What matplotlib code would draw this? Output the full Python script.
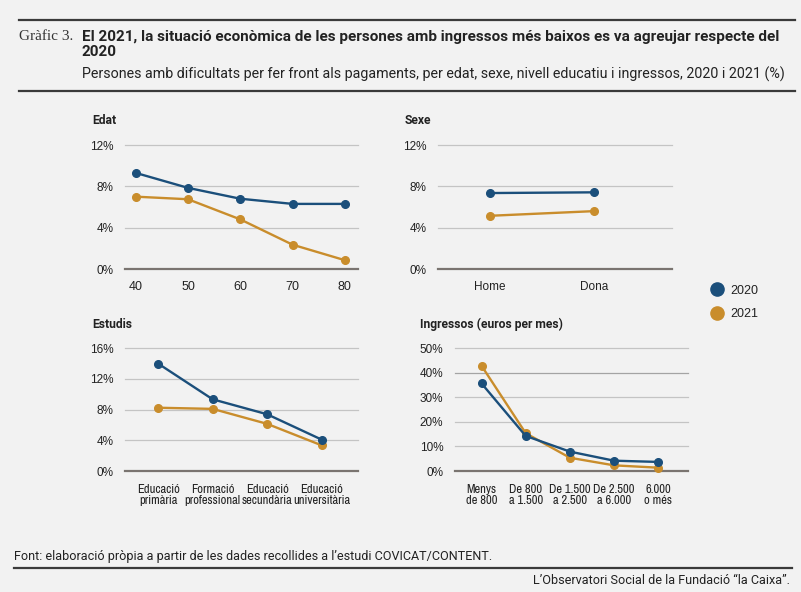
import matplotlib
matplotlib.use("Agg")
import matplotlib.pyplot as plt
from matplotlib.lines import Line2D

# ---------------- data ----------------
edat_x = [40, 50, 60, 70, 80]
edat_2020 = [9.3, 7.85, 6.8, 6.3, 6.3]
edat_2021 = [7.0, 6.75, 4.8, 2.35, 0.85]

sexe_cats = ["Home", "Dona"]
sexe_2020 = [7.35, 7.42]
sexe_2021 = [5.15, 5.6]

estudis_cats = ["Educació\nprimària", "Formació\nprofessional", "Educació\nsecundària", "Educació\nuniversitària"]
estudis_2020 = [14.0, 9.35, 7.4, 4.1]
estudis_2021 = [8.25, 8.1, 6.15, 3.35]

ingressos_cats = ["Menys\nde 800", "De 800\na 1.500", "De 1.500\na 2.500", "De 2.500\na 6.000", "6.000\no més"]
ingressos_2020 = [35.7, 14.3, 7.9, 4.2, 3.7]
ingressos_2021 = [42.9, 15.4, 5.4, 2.3, 1.35]

edat_yticks = [0, 4, 8, 12]
sexe_yticks = [0, 4, 8, 12]
estudis_yticks = [0, 4, 8, 12, 16]
ingressos_yticks = [0, 10, 20, 30, 40, 50]

series_labels = ["2020", "2021"]

title = "El 2021, la situació econòmica de les persones amb ingressos més baixos es va agreujar respecte del\n2020"
subtitle = "Persones amb dificultats per fer front als pagaments, per edat, sexe, nivell educatiu i ingressos, 2020 i 2021 (%)"
source = "Font: elaboració pròpia a partir de les dades recollides a l’estudi COVICAT/CONTENT."
credit = "L’Observatori Social de la Fundació “la Caixa”."

# ---------------- style ----------------
BG = "#f2f2f2"
BLUE = "#1b4f7b"
GOLD = "#c98d2c"
GRID = "#c4c4c4"
ZERO = "#7a7470"
TXT = "#222222"

NARROW = ["Archivo Narrow", "Roboto Condensed", "DejaVu Sans"]
ROBOTO = ["Roboto", "DejaVu Sans"]
plt.rcParams["font.family"] = ["Liberation Sans", "DejaVu Sans"]

W, H = 801, 592
fig = plt.figure(figsize=(W / 100, H / 100), dpi=100, facecolor=BG)


def fx(px):
    return px / W


def fy(py):
    return 1 - py / H


def make_ax(x0, x1, ytop, ybot):
    ax = fig.add_axes([fx(x0), fy(ybot), fx(x1 - x0), (ybot - ytop) / H])
    ax.set_facecolor(BG)
    for s in ax.spines.values():
        s.set_visible(False)
    ax.tick_params(length=0, labelsize=8.5, colors=TXT)
    return ax


def draw(ax, x, y20, y21, yticks, xlim, xpad, dark=()):
    ax.set_ylim(yticks[0], yticks[-1])
    ax.set_yticks(yticks)
    ax.set_yticklabels([f"{t}%" for t in yticks])
    for t in yticks:
        if t == 0:
            ax.axhline(t, color=ZERO, lw=1.6, zorder=2, clip_on=False)
        else:
            ax.axhline(t, color="#a4a4a4" if t in dark else GRID, lw=0.9, zorder=1, clip_on=False)
    ax.plot(x, y20, color=BLUE, lw=1.7, marker="o", ms=5.5, zorder=4, clip_on=False)
    ax.plot(x, y21, color=GOLD, lw=1.7, marker="o", ms=5.5, zorder=3, clip_on=False)
    ax.set_xlim(*xlim)
    ax.tick_params(axis="y", pad=8.5)
    ax.tick_params(axis="x", pad=xpad)


# Edat
ax1 = make_ax(125, 358, 145, 269)
draw(ax1, edat_x, edat_2020, edat_2021, edat_yticks, (37.95, 82.5), 8.5)
ax1.set_xticks(edat_x)
ax1.tick_params(axis="x", labelsize=9)

# Sexe
ax2 = make_ax(438, 672, 145, 269)
xs = list(range(len(sexe_cats)))
draw(ax2, xs, sexe_2020, sexe_2021, sexe_yticks, (-0.5, 1.75), 8.5)
ax2.set_xticks(xs)
ax2.set_xticklabels(sexe_cats)

# Estudis
ax3 = make_ax(125, 358, 348.3, 471)
xs = list(range(len(estudis_cats)))
draw(ax3, xs, estudis_2020, estudis_2021, estudis_yticks, (-0.61, 3.67), 9.5)
ax3.set_xticks(xs)
ax3.set_xticklabels(estudis_cats, fontsize=9, linespacing=1.0, family=NARROW)

# Ingressos
ax4 = make_ax(455, 688.3, 348.3, 471)
xs = list(range(len(ingressos_cats)))
draw(ax4, xs, ingressos_2020, ingressos_2021, ingressos_yticks, (-0.6, 4.68), 9.5, dark=(40,))
ax4.set_xticks(xs)
ax4.set_xticklabels(ingressos_cats, fontsize=9, linespacing=1.0, family=NARROW)

# panel titles
for (px, py, s) in [(92, 121, "Edat"), (405, 121, "Sexe"), (92, 324, "Estudis"),
                    (420, 324, "Ingressos (euros per mes)")]:
    fig.text(fx(px), fy(py), s, fontsize=8.7, fontweight="bold", color=TXT,
             ha="left", va="center", family=ROBOTO)

# legend
handles = [Line2D([], [], ls="none", marker="o", ms=9.5, color=c) for c in (BLUE, GOLD)]
fig.legend(handles, series_labels, loc="center left", bbox_to_anchor=(fx(703), fy(302.5)),
           frameon=False, fontsize=9, handletextpad=0.5, labelspacing=0.95,
           borderpad=0, handlelength=1.2, labelcolor=TXT)

# header
fig.add_artist(Line2D([fx(19), fx(795)], [fy(20), fy(20)], color="#3a3a3a", lw=1.6))
fig.add_artist(Line2D([fx(19), fx(795)], [fy(91), fy(91)], color="#3a3a3a", lw=1.6))
fig.text(fx(19), fy(37), "Gràfic 3.", fontsize=11, family=["Liberation Serif", "DejaVu Serif"],
         color="#333333", ha="left", va="center")
fig.text(fx(82), fy(44.3), title, fontsize=11, fontweight="bold", family=ROBOTO,
         color=TXT, ha="left", va="center", linespacing=1.1)
fig.text(fx(82), fy(74.5), subtitle, fontsize=10.3, family=ROBOTO, color=TXT,
         ha="left", va="center")

# footer
fig.text(fx(14), fy(556.5), source, fontsize=9.1, family=ROBOTO, color=TXT, ha="left", va="center")
fig.add_artist(Line2D([fx(14), fx(792)], [fy(567.5), fy(567.5)], color="#3a3a3a", lw=1.6))
fig.text(fx(790), fy(580.5), credit, fontsize=9.1, family=ROBOTO, color=TXT, ha="right", va="center")

fig.savefig("out.png", dpi=100, facecolor=BG)
